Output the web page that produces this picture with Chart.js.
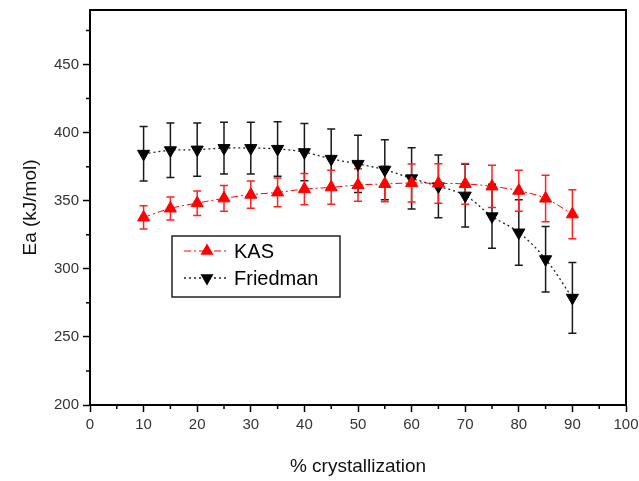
<!DOCTYPE html>
<html><head><meta charset="utf-8">
<script src="https://cdn.jsdelivr.net/npm/chart.js@4.4.0/dist/chart.umd.min.js"></script>
<style>html,body{margin:0;padding:0;background:#fff;overflow:hidden}</style>
</head><body>
<canvas id="c" width="639" height="481" style="width:639px;height:481px;display:block"></canvas>
<script>
const crystallization = [10,15,20,25,30,35,40,45,50,55,60,65,70,75,80,85,90];
const kasEa = [337.7,344.3,348.2,351.7,354.4,356.1,358.5,359.8,361.5,362.3,363.0,362.7,362.3,360.5,357.3,351.6,340.0];
const kasErr = [8.5,8.5,9,9.5,10,10.5,11.5,12.5,12,13,14,14.5,15,15.5,15,17,18];
const friedmanEa = [384.4,387.0,387.5,388.6,388.6,388.0,385.6,380.7,377.0,372.7,366.4,360.5,353.7,338.5,326.6,307.0,278.7];
const friedmanErr = [20,20,19.5,19,19,20,21,22,21,22,22.5,23,23,23.5,24,24,26];
const seriesNames = ['KAS','Friedman'];
const xTitle = '% crystallization';
const yTitle = 'Ea (kJ/mol)';

const FONT = 'Arial, "Liberation Sans", Helvetica, sans-serif';

const pts = (ys) => crystallization.map((c,i)=>({x:c,y:ys[i]}));

const errorBars = {
  id:'errorBars',
  beforeDatasetsDraw(chart){
    const {ctx, scales:{x,y}} = chart;
    ctx.save();
    [1,0].forEach(i=>{
      const ds = chart.data.datasets[i];
      ctx.strokeStyle = ds.errColor;
      ctx.lineWidth = 1.5;
      ds.data.forEach((p,j)=>{
        const px = x.getPixelForValue(p.x);
        const t = y.getPixelForValue(p.y + ds.errors[j]);
        const b = y.getPixelForValue(p.y - ds.errors[j]);
        ctx.beginPath();
        ctx.moveTo(px,t); ctx.lineTo(px,b);
        ctx.moveTo(px-4,t); ctx.lineTo(px+4,t);
        ctx.moveTo(px-4,b); ctx.lineTo(px+4,b);
        ctx.stroke();
      });
    });
    ctx.restore();
  }
};

const frameAndLegend = {
  id:'frameAndLegend',
  afterDraw(chart){
    const {ctx, chartArea:a, scales:{x,y}} = chart;
    ctx.save();
    ctx.strokeStyle = '#000';
    ctx.lineWidth = 2;
    ctx.beginPath();
    ctx.moveTo(a.left, a.top); ctx.lineTo(a.right, a.top); ctx.lineTo(a.right, a.bottom);
    ctx.stroke();
    // minor ticks
    ctx.lineWidth = 1.5;
    ctx.beginPath();
    for (let v=5; v<100; v+=10){ const px=x.getPixelForValue(v); ctx.moveTo(px,a.bottom); ctx.lineTo(px,a.bottom+4); }
    for (let v=225; v<490; v+=50){ const py=y.getPixelForValue(v); ctx.moveTo(a.left,py); ctx.lineTo(a.left-4,py); }
    ctx.stroke();
    // legend
    const bx=172, by=236, bw=168, bh=61;
    ctx.lineWidth = 1.5;
    ctx.strokeStyle = '#222';
    ctx.fillStyle = '#fff';
    ctx.fillRect(bx,by,bw,bh);
    ctx.strokeRect(bx,by,bw,bh);
    const rows = [251, 278];
    chart.data.datasets.forEach((ds,i)=>{
      const ry = rows[i];
      ctx.save();
      ctx.strokeStyle = ds.borderColor;
      ctx.lineWidth = ds.borderWidth;
      ctx.setLineDash(ds.borderDash);
      ctx.beginPath(); ctx.moveTo(184,ry); ctx.lineTo(229,ry); ctx.stroke();
      ctx.restore();
      ctx.fillStyle = ds.pointBackgroundColor;
      ctx.beginPath();
      const r=7.5, rot = ds.pointRotation*Math.PI/180;
      for (let k=0;k<3;k++){ const ang = rot + k*2*Math.PI/3; const xx=207+Math.sin(ang)*r, yy=ry-Math.cos(ang)*r; k?ctx.lineTo(xx,yy):ctx.moveTo(xx,yy);} 
      ctx.closePath(); ctx.fill();
      ctx.fillStyle = '#000';
      ctx.font = '20px ' + FONT;
      ctx.textBaseline = 'middle';
      ctx.textAlign = 'left';
      ctx.fillText(ds.label, 234, ry+1);
    });
    ctx.restore();
  }
};

new Chart(document.getElementById('c'), {
  type:'line',
  data:{
    datasets:[
      {label:seriesNames[0], data:pts(kasEa), errors:kasErr, errColor:'#ff2020',
       borderColor:'#ff0000', borderWidth:1, borderDash:[7,3,2,3], tension:0.4,
       pointStyle:'triangle', pointRadius:7, pointRotation:0,
       pointBackgroundColor:'#ff0000', pointBorderColor:'#ff0000', pointBorderWidth:1},
      {label:seriesNames[1], data:pts(friedmanEa), errors:friedmanErr, errColor:'#1a1a1a',
       borderColor:'#222', borderWidth:1.3, borderDash:[2,3], tension:0.4,
       pointStyle:'triangle', pointRadius:7, pointRotation:180,
       pointBackgroundColor:'#000', pointBorderColor:'#000', pointBorderWidth:1}
    ]
  },
  options:{
    responsive:false, animation:false, devicePixelRatio:1,
    layout:{padding:{left:0,right:13,top:10,bottom:0}},
    plugins:{legend:{display:false}, tooltip:{enabled:false}},
    scales:{
      x:{type:'linear', min:0, max:100,
         border:{color:'#000', width:2},
         grid:{display:true, drawOnChartArea:false, tickLength:7, tickWidth:1.5,
               tickColor:(c)=> (c.tick && c.tick.value%10===0) ? '#000' : 'rgba(0,0,0,0)'},
         ticks:{stepSize:5, autoSkip:false, maxRotation:0, padding:4, color:'#333',
                font:{family:FONT, size:15},
                callback:(v)=> v%10===0 ? String(v) : ''},
         title:{display:true, text:xTitle, color:'#111', font:{family:FONT, size:19, lineHeight:1.2}, padding:{top:0,bottom:3}},
         afterFit:(s)=>{ s.height = 76; s.paddingLeft = 0; s.paddingRight = 0; }
      },
      y:{type:'linear', min:200, max:490,
         border:{color:'#000', width:2},
         grid:{display:true, drawOnChartArea:false, tickLength:7, tickWidth:1.5,
               tickColor:(c)=> (c.tick && c.tick.value%50===0) ? '#000' : 'rgba(0,0,0,0)'},
         ticks:{stepSize:25, autoSkip:false, padding:4, color:'#333',
                font:{family:FONT, size:15},
                callback:(v)=> v%50===0 ? String(v) : ''},
         title:{display:true, text:yTitle, color:'#111', font:{family:FONT, size:19, lineHeight:1.2}, padding:{top:19,bottom:0}},
         afterFit:(s)=>{ s.width = 90; s.paddingTop = 0; s.paddingBottom = 0; }
      }
    }
  },
  plugins:[errorBars, frameAndLegend]
});
</script>
</body></html>
